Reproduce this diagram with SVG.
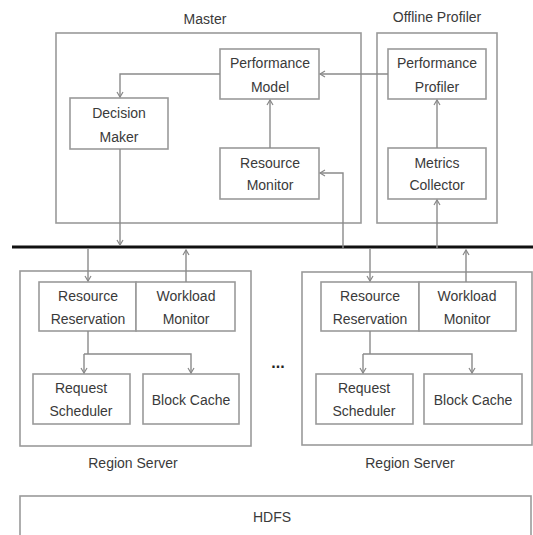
<svg xmlns="http://www.w3.org/2000/svg" width="533" height="535" viewBox="0 0 533 535">
<defs>
<marker id="arr" markerWidth="8" markerHeight="8" refX="6" refY="4" orient="auto" markerUnits="userSpaceOnUse">
<path d="M1,1 L6,4 L1,7" fill="none" stroke="#888" stroke-width="1.2"/>
</marker>
<style>
.box{fill:#fff;stroke:#9a9a9a;stroke-width:1.6}
.grp{fill:none;stroke:#9a9a9a;stroke-width:1.6}
.t{font-family:"Liberation Sans",Arial,sans-serif;font-size:14px;fill:#3a3a3a;text-anchor:middle}
.c{fill:none;stroke:#8a8a8a;stroke-width:1.4}
.a{marker-end:url(#arr)}
</style>
</defs>
<rect width="533" height="535" fill="#fff"/>

<g id="master">
<rect class="grp" x="56" y="33" width="305" height="190"/>
<text class="t" x="205" y="24">Master</text>
</g>
<g id="offline-profiler">
<rect class="grp" x="377" y="33" width="120" height="190"/>
<text class="t" x="437" y="22">Offline Profiler</text>
</g>
<g id="performance-model">
<rect class="box" x="220" y="49" width="99" height="50"/>
<text class="t" x="270" y="68">Performance</text>
<text class="t" x="270" y="92">Model</text>
</g>
<g id="decision-maker">
<rect class="box" x="70" y="98" width="98" height="51"/>
<text class="t" x="119" y="118">Decision</text>
<text class="t" x="119" y="142">Maker</text>
</g>
<g id="resource-monitor">
<rect class="box" x="220" y="148" width="99" height="51"/>
<text class="t" x="270" y="168">Resource</text>
<text class="t" x="270" y="190">Monitor</text>
</g>
<g id="performance-profiler">
<rect class="box" x="388" y="49" width="98" height="50"/>
<text class="t" x="437" y="68">Performance</text>
<text class="t" x="437" y="92">Profiler</text>
</g>
<g id="metrics-collector">
<rect class="box" x="388" y="148" width="98" height="51"/>
<text class="t" x="437" y="168">Metrics</text>
<text class="t" x="437" y="190">Collector</text>
</g>

<g id="region-server-1">
<rect class="grp" x="20" y="271" width="231" height="175"/>
<text class="t" x="133" y="468">Region Server</text>
</g>
<g id="resource-reservation-1">
<rect class="box" x="39" y="282" width="97" height="49"/>
<text class="t" x="88" y="301">Resource</text>
<text class="t" x="88" y="324">Reservation</text>
</g>
<g id="workload-monitor-1">
<rect class="box" x="136" y="282" width="99" height="49"/>
<text class="t" x="186" y="301">Workload</text>
<text class="t" x="186" y="324">Monitor</text>
</g>
<g id="request-scheduler-1">
<rect class="box" x="33" y="374" width="97" height="50"/>
<text class="t" x="81" y="393">Request</text>
<text class="t" x="81" y="416">Scheduler</text>
</g>
<g id="block-cache-1">
<rect class="box" x="143" y="374" width="96" height="50"/>
<text class="t" x="191" y="405">Block Cache</text>
</g>

<g id="region-server-2">
<rect class="grp" x="302" y="272" width="230" height="173"/>
<text class="t" x="410" y="468">Region Server</text>
</g>
<g id="resource-reservation-2">
<rect class="box" x="321" y="282" width="98" height="49"/>
<text class="t" x="370" y="301">Resource</text>
<text class="t" x="370" y="324">Reservation</text>
</g>
<g id="workload-monitor-2">
<rect class="box" x="419" y="282" width="97" height="49"/>
<text class="t" x="467" y="301">Workload</text>
<text class="t" x="467" y="324">Monitor</text>
</g>
<g id="request-scheduler-2">
<rect class="box" x="316" y="374" width="97" height="50"/>
<text class="t" x="364" y="393">Request</text>
<text class="t" x="364" y="416">Scheduler</text>
</g>
<g id="block-cache-2">
<rect class="box" x="424" y="374" width="98" height="50"/>
<text class="t" x="473" y="405">Block Cache</text>
</g>

<g id="ellipsis">
<text class="t" x="278" y="368" style="font-weight:bold;font-size:16px;fill:#222">...</text>
</g>

<g id="hdfs">
<rect class="box" x="20" y="496" width="511" height="50"/>
<text class="t" x="272" y="522">HDFS</text>
</g>

<g id="connectors">
<line x1="12" y1="247" x2="533" y2="247" stroke="#111" stroke-width="3"/>
<path class="c a" d="M388,74 H320"/>
<path class="c a" d="M220,74 H120 V97"/>
<path class="c a" d="M270,148 V100"/>
<path class="c a" d="M120,149 V245"/>
<path class="c a" d="M343,249 V173 H320"/>
<path class="c a" d="M437,148 V100"/>
<path class="c a" d="M437,249 V200"/>
<path class="c a" d="M88,249 V281"/>
<path class="c a" d="M186,282 V250"/>
<path class="c" d="M88,331 V354"/>
<path class="c a" d="M84,354 V373"/>
<path class="c a" d="M84,354 H191 V373"/>
<path class="c a" d="M370,249 V281"/>
<path class="c a" d="M466,282 V250"/>
<path class="c" d="M370,331 V354"/>
<path class="c a" d="M363,354 V373"/>
<path class="c a" d="M363,354 H472 V373"/>
</g>
</svg>
